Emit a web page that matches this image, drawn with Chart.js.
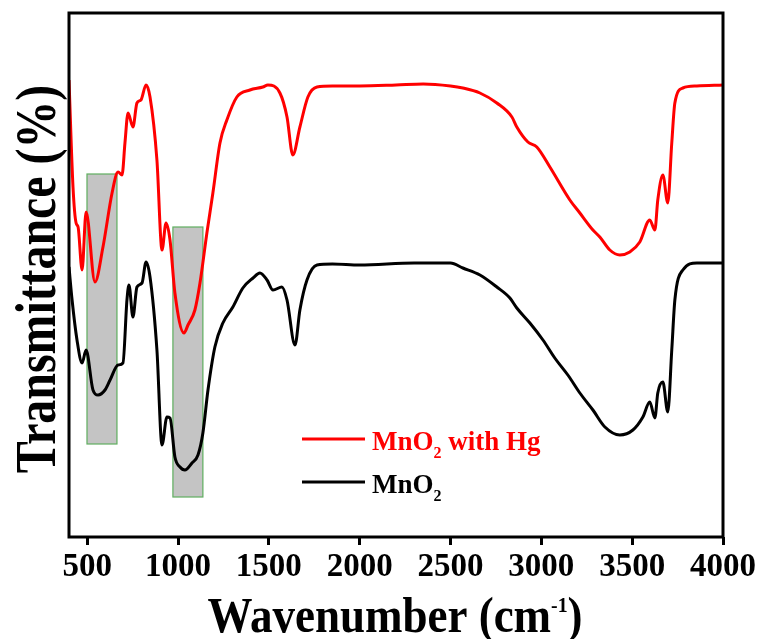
<!DOCTYPE html>
<html>
<head>
<meta charset="utf-8">
<script src="https://cdn.jsdelivr.net/npm/chart.js@4.4.1/dist/chart.umd.min.js"></script>
<style>
  html, body { margin: 0; padding: 0; background: #fff; }
  #wrap { width: 762px; height: 639px; }
</style>
</head>
<body>
<div id="wrap"><canvas id="ftir"></canvas></div>
<script>
// FTIR spectra (wavenumber in cm-1, transmittance in arbitrary %)
const redWavenumber = [400,422,439,450,472,494,543,587,637,670,692,708,725,752,774,796,824,846,884,912,934,956,983,1033,1055,1093,1121,1159,1192,1231,1269,1324,1396,1467,1495,1561,1600,1632,1671,1715,1765,1850,2000,2200,2350,2500,2568,2662,2755,2838,2865,2926,2975,3047,3157,3212,3284,3322,3377,3432,3487,3542,3597,3625,3641,3669,3696,3718,3735,3779,3856,4000];
const redTransmittance = [91.4,70,62.8,62,53.4,65,51,58,68.8,73,72.4,78.8,84.8,82,86.8,87.4,90.4,88,75.4,57.4,62.8,59.4,48.8,40.8,42.4,45.4,50.8,60.8,68.8,78.8,83.4,88,89.4,90,90.4,88.8,84,76.4,82,88,90,90.2,90.2,90.4,90.6,90.2,89.8,88.8,86.8,84,82,79,78,74,67.4,64.8,61.4,60,57.4,56.4,57,59,63.4,61.4,67.4,72.4,66.8,78.8,86.8,89.8,90.2,90.4];

const blackWavenumber = [400,417,444,472,494,532,560,598,626,670,697,719,730,752,774,802,824,846,884,912,939,956,983,1011,1038,1077,1110,1137,1165,1203,1247,1302,1357,1413,1451,1490,1523,1572,1600,1644,1671,1710,1765,1850,2000,2300,2500,2568,2662,2755,2827,2865,2937,3009,3074,3150,3212,3284,3350,3432,3504,3559,3597,3625,3641,3669,3696,3718,3735,3779,3856,4000];
const blackTransmittance = [54,47.4,39.4,34.8,37.4,29.4,28.4,29.4,31.4,34.4,34.8,47.4,50.4,44,50,50.8,55,52,37.4,18.4,24,23.8,16,14,13.4,14.8,16.4,20.8,29.4,38,42.8,46,49.8,51.8,52.8,51.4,49.4,50,47.4,38.4,45.4,51.4,54.4,54.6,54.4,54.8,54.8,53.8,52.4,50,47.8,45.8,42.8,39.4,35.8,32.2,28.8,25.4,22,20.4,21.4,24,27,23.8,28.8,31,25,37.4,47.4,53.4,54.8,54.8];

// highlighted bands
const bandFrom = [499, 972];
const bandTo = [664, 1137];
const bandTop = [72.6, 62];
const bandBottom = [18.6, 8];

const xTicks = [500, 1000, 1500, 2000, 2500, 3000, 3500, 4000];

const serif = "'Liberation Serif', 'Times New Roman', serif";

const toPoints = (xs, ys) => xs.map((v, i) => ({ x: v, y: ys[i] }));

// draw a run of text pieces (for sub/superscripts), centred or left aligned
function drawParts(ctx, parts, x, y, align, sx) {
  ctx.save();
  ctx.translate(x, y);
  ctx.scale(sx, 1);
  ctx.textBaseline = 'alphabetic';
  ctx.textAlign = 'left';
  let total = 0;
  parts.forEach(p => { ctx.font = p.font; total += ctx.measureText(p.text).width; });
  let cx = align === 'center' ? -total / 2 : 0;
  parts.forEach(p => {
    ctx.font = p.font;
    ctx.fillStyle = p.color || '#000';
    ctx.fillText(p.text, cx, p.dy || 0);
    cx += ctx.measureText(p.text).width;
  });
  ctx.restore();
}

const extras = {
  id: 'extras',
  beforeDatasetsDraw(chart) {
    const { ctx, scales: { x, y } } = chart;
    ctx.save();
    bandFrom.forEach((from, i) => {
      const l = x.getPixelForValue(from), r = x.getPixelForValue(bandTo[i]);
      const t = y.getPixelForValue(bandTop[i]), b = y.getPixelForValue(bandBottom[i]);
      ctx.fillStyle = '#c4c4c4';
      ctx.fillRect(l, t, r - l, b - t);
      ctx.strokeStyle = '#5fae5f';
      ctx.lineWidth = 1.2;
      ctx.strokeRect(l, t, r - l, b - t);
    });
    ctx.restore();
  },
  afterDatasetsDraw(chart) {
    const { ctx, chartArea: a } = chart;
    ctx.save();
    // frame
    ctx.strokeStyle = '#000';
    ctx.lineWidth = 3;
    ctx.strokeRect(a.left, a.top, a.right - a.left, a.bottom - a.top);

    // y title
    ctx.translate(55, 279);
    ctx.rotate(-Math.PI / 2);
    ctx.scale(0.825, 1);
    ctx.font = 'bold 58px ' + serif;
    ctx.fillStyle = '#000';
    ctx.textAlign = 'center';
    ctx.textBaseline = 'alphabetic';
    ctx.fillText('Transmittance (%)', 0, 0);
    ctx.restore();

    // x title
    drawParts(ctx, [
      { text: 'Wavenumber (cm', font: 'bold 50px ' + serif },
      { text: '-1', font: 'bold 22px ' + serif, dy: -20 },
      { text: ')', font: 'bold 50px ' + serif }
    ], 395, 632, 'center', 0.9);

    // legend
    const items = [
      { color: '#ff0000', y: 439, parts: ['MnO', '2', ' with Hg'] },
      { color: '#000000', y: 482, parts: ['MnO', '2'] }
    ];
    items.forEach(it => {
      ctx.save();
      ctx.strokeStyle = it.color;
      ctx.lineWidth = 3;
      ctx.beginPath();
      ctx.moveTo(302, it.y);
      ctx.lineTo(365, it.y);
      ctx.stroke();
      ctx.restore();
      drawParts(ctx, it.parts.map((t, i) => i === 1
        ? { text: t, font: 'bold 16px ' + serif, dy: 8, color: it.color }
        : { text: t, font: 'bold 27px ' + serif, color: it.color }
      ), 372, it.y + 11, 'left', 1);
    });
  }
};

new Chart(document.getElementById('ftir'), {
  type: 'line',
  data: {
    datasets: [
      {
        label: 'MnO2',
        data: toPoints(blackWavenumber, blackTransmittance),
        borderColor: '#000000',
        borderWidth: 3,
        pointRadius: 0,
        cubicInterpolationMode: 'monotone'
      },
      {
        label: 'MnO2 with Hg',
        data: toPoints(redWavenumber, redTransmittance),
        borderColor: '#ff0000',
        borderWidth: 3,
        pointRadius: 0,
        cubicInterpolationMode: 'monotone'
      }
    ]
  },
  options: {
    responsive: true,
    maintainAspectRatio: false,
    animation: false,
    layout: { padding: { left: 69, right: 39, top: 13, bottom: 0 } },
    plugins: { legend: { display: false }, tooltip: { enabled: false } },
    scales: {
      x: {
        type: 'linear',
        min: 400,
        max: 4000,
        afterBuildTicks: s => { s.ticks = xTicks.map(v => ({ value: v })); },
        afterFit: s => { s.height = 102; },
        grid: { drawOnChartArea: false, color: '#000', tickLength: 8, tickWidth: 3 },
        border: { display: false },
        ticks: {
          color: '#000',
          padding: 3,
          maxRotation: 0,
          font: { family: serif, size: 33, weight: 'bold' },
          callback: v => String(v)
        }
      },
      y: {
        display: false,
        min: 0,
        max: 104.8
      }
    }
  },
  plugins: [extras]
});
</script>
</body>
</html>
